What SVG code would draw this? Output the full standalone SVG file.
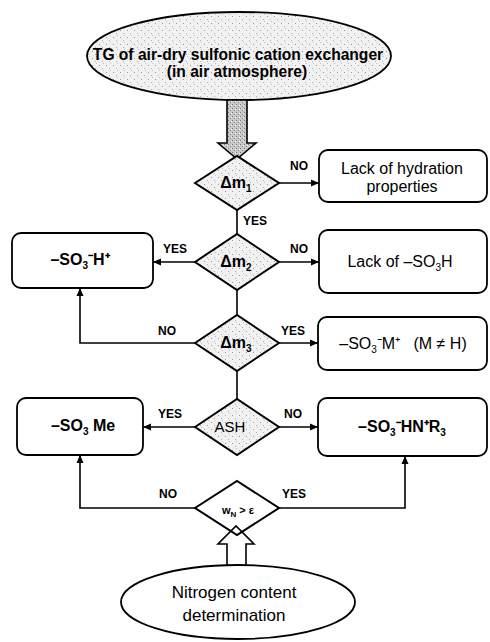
<svg xmlns="http://www.w3.org/2000/svg" width="490" height="642" viewBox="0 0 490 642">
<defs>
<pattern id="stip" width="7" height="7" patternUnits="userSpaceOnUse">
<rect width="7" height="7" fill="#f1f1f1"/>
<rect x="1" y="2" width="1" height="1" fill="#9a9a9a"/>
<rect x="4" y="5" width="1" height="1" fill="#b0b0b0"/>
<rect x="5" y="0" width="1" height="1" fill="#c4c4c4"/>
</pattern>
<pattern id="stipd" width="4" height="4" patternUnits="userSpaceOnUse">
<rect width="4" height="4" fill="#c9c9c9"/>
<rect x="0" y="0" width="1" height="1" fill="#777"/>
<rect x="2" y="2" width="1" height="1" fill="#888"/>
<rect x="3" y="1" width="1" height="1" fill="#eee"/>
</pattern>
<marker id="ah" markerWidth="9" markerHeight="8" refX="8" refY="4" orient="auto" markerUnits="userSpaceOnUse">
<path d="M0,0.5 L8,4 L0,7.5 Z" fill="#000"/>
</marker>
<style>
.ln{stroke:#000;stroke-width:1.6;fill:none}
.ar{marker-end:url(#ah)}
.dm{fill:url(#stip);stroke:#000;stroke-width:2}
.bx{fill:#fff;stroke:#000;stroke-width:1.8}
.el{stroke:#000;stroke-width:1.8}
.f{font-family:"Liberation Sans",Arial,Helvetica,sans-serif;fill:#000}
.lb{font-family:"Liberation Sans",Arial,Helvetica,sans-serif;font-weight:bold;font-size:12px;fill:#000}
.b{font-weight:bold}
.pre{white-space:pre}
</style>
</defs>

<g id="start">
<ellipse class="el" cx="239" cy="56" rx="152" ry="44" fill="url(#stip)"/>
<text class="f b" x="238" y="60" font-size="15.6" text-anchor="middle">TG of air-dry sulfonic cation exchanger</text>
<text class="f b" x="237" y="77" font-size="15.6" text-anchor="middle">(in air atmosphere)</text>
</g>

<g id="hatched-arrow">
<path d="M227,100 V143 H218 L237,159 L256,143 H247 V100 Z" fill="url(#stipd)" stroke="#000" stroke-width="1.6"/>
</g>

<g id="connectors">
<path class="ln ar" d="M279,183 H319"/>
<path class="ln" d="M237,210 V234"/>
<path class="ln ar" d="M279,262 H319"/>
<path class="ln ar" d="M195,262 H153"/>
<path class="ln" d="M237,290 V315"/>
<path class="ln ar" d="M279,343 H318"/>
<path class="ln ar" d="M195,343 H80 V288"/>
<path class="ln" d="M237,371 V399"/>
<path class="ln ar" d="M195,427 H143"/>
<path class="ln ar" d="M279,427 H318"/>
<path class="ln ar" d="M195,508 H80 V455"/>
<path class="ln ar" d="M279,508 H405 V456"/>
<text class="lb" x="290" y="170">NO</text>
<text class="lb" x="243" y="225">YES</text>
<text class="lb" x="290" y="253">NO</text>
<text class="lb" x="163" y="253">YES</text>
<text class="lb" x="281" y="335">YES</text>
<text class="lb" x="158" y="335">NO</text>
<text class="lb" x="158" y="418">YES</text>
<text class="lb" x="284" y="418">NO</text>
<text class="lb" x="159" y="498">NO</text>
<text class="lb" x="282" y="498">YES</text>
</g>

<g id="dm1">
<polygon class="dm" points="195,183 237,156 279,183 237,210"/>
<text class="f b" x="236" y="188" font-size="16" text-anchor="middle">Δm<tspan font-size="10" dy="4">1</tspan></text>
</g>

<g id="dm2">
<polygon class="dm" points="195,262 237,234 279,262 237,290"/>
<text class="f b" x="236" y="267" font-size="16" text-anchor="middle">Δm<tspan font-size="10" dy="4">2</tspan></text>
</g>

<g id="dm3">
<polygon class="dm" points="195,343 237,315 279,343 237,371"/>
<text class="f b" x="236" y="348" font-size="16" text-anchor="middle">Δm<tspan font-size="10" dy="4">3</tspan></text>
</g>

<g id="ash">
<polygon class="dm" points="195,427 237,399 279,427 237,455"/>
<text class="f" x="230" y="432" font-size="15" text-anchor="middle">ASH</text>
</g>

<g id="wn">
<polygon points="195,508 237,481 279,508 237,535" fill="#fff" stroke="#000" stroke-width="2"/>
<text class="f b" x="238" y="514" font-size="11" text-anchor="middle">w<tspan font-size="8" dy="3">N</tspan><tspan dy="-3"> &gt; ε</tspan></text>
</g>

<g id="hollow-arrow">
<path d="M227,565 V544 H218 L236,526 L254,544 H246 V565" fill="none" stroke="#000" stroke-width="1.6"/>
</g>

<g id="nitrogen">
<ellipse class="el" cx="238" cy="602" rx="117" ry="37" fill="#fff"/>
<text class="f" x="234" y="598" font-size="17" text-anchor="middle">Nitrogen content</text>
<text class="f" x="234" y="621" font-size="17" text-anchor="middle">determination</text>
</g>

<g id="lack-hydration">
<rect class="bx" x="319" y="150" width="168" height="52" rx="9"/>
<text class="f" x="402" y="174" font-size="16" text-anchor="middle">Lack of hydration</text>
<text class="f" x="402" y="192" font-size="16" text-anchor="middle">properties</text>
</g>

<g id="lack-so3h">
<rect class="bx" x="319" y="230" width="168" height="63" rx="9"/>
<text class="f" x="400" y="267" font-size="16" text-anchor="middle">Lack of –SO<tspan font-size="10" dy="4">3</tspan><tspan dy="-4">H</tspan></text>
</g>

<g id="so3m">
<rect class="bx" x="318" y="317" width="169" height="53" rx="9"/>
<text class="f pre" x="403" y="349" font-size="16" text-anchor="middle" xml:space="preserve">–SO<tspan font-size="10" dy="4">3</tspan><tspan dy="-4">⁻M⁺   (M ≠ H)</tspan></text>
</g>

<g id="so3hnr3">
<rect class="bx" x="318" y="398" width="169" height="58" rx="9"/>
<text class="f b" x="402" y="432" font-size="16" text-anchor="middle">–SO<tspan font-size="10" dy="4">3</tspan><tspan dy="-4">⁻HN⁺R</tspan><tspan font-size="10" dy="4">3</tspan></text>
</g>

<g id="so3h">
<rect class="bx" x="12" y="233" width="141" height="55" rx="9"/>
<text class="f b" x="80" y="265" font-size="16" text-anchor="middle">–SO<tspan font-size="10" dy="4">3</tspan><tspan dy="-4">⁻H⁺</tspan></text>
</g>

<g id="so3me">
<rect class="bx" x="17" y="398" width="126" height="57" rx="9"/>
<text class="f b" x="83" y="431" font-size="16" text-anchor="middle">–SO<tspan font-size="10" dy="4">3</tspan><tspan dy="-4"> Me</tspan></text>
</g>
</svg>
